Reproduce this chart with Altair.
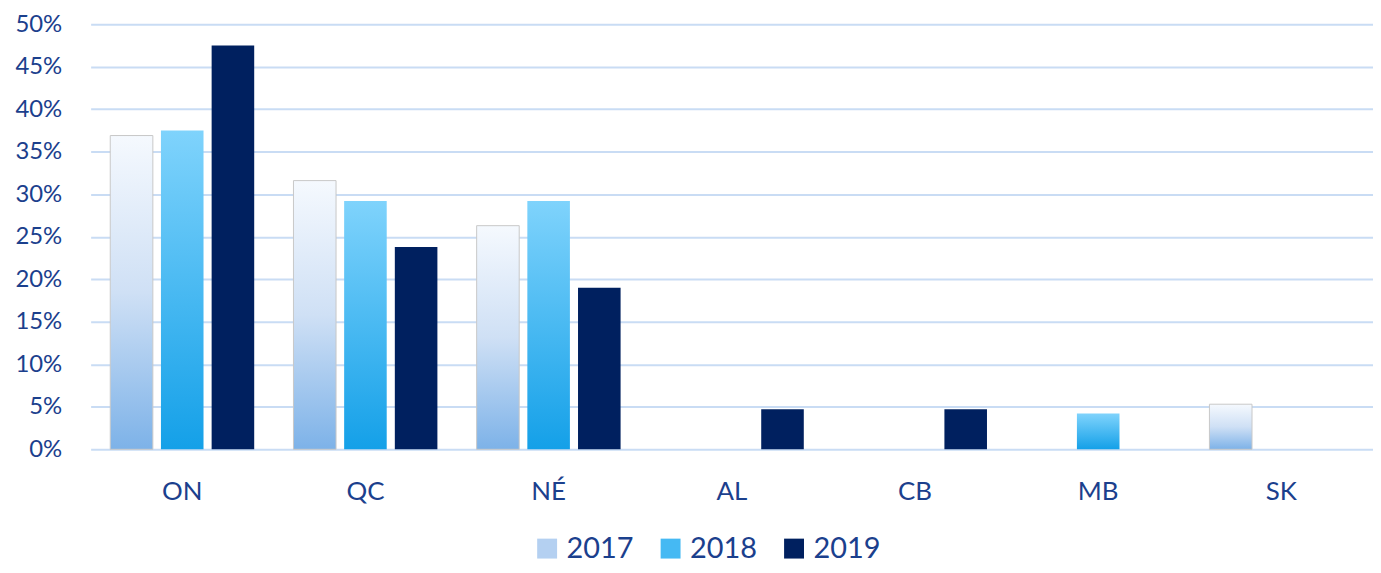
import altair as alt
import pandas as pd

provinces = ["ON", "QC", "NÉ", "AL", "CB", "MB", "SK"]
years = ["2017", "2018", "2019"]
v2017 = [36.9, 31.6, 26.3, None, None, None, 5.3]
v2018 = [37.5, 29.2, 29.2, None, None, 4.2, None]
v2019 = [47.5, 23.8, 19.0, 4.7, 4.7, None, None]

rows = []
for year, vals in zip(years, [v2017, v2018, v2019]):
    for p, v in zip(provinces, vals):
        if v is not None:
            rows.append({"province": p, "year": year, "value": v / 100})
df = pd.DataFrame(rows)

TEXT = "#1b408d"
FONT = "Lato"
GRID = "#c9dcf4"

gradients = {
    "2017": {"gradient": "linear", "x1": 0, "y1": 0, "x2": 0, "y2": 1,
             "stops": [{"offset": 0, "color": "#f5f9fe"},
                       {"offset": 0.5, "color": "#cfe0f5"},
                       {"offset": 1, "color": "#7db2e8"}]},
    "2018": {"gradient": "linear", "x1": 0, "y1": 0, "x2": 0, "y2": 1,
             "stops": [{"offset": 0, "color": "#7fd3fc"},
                       {"offset": 1, "color": "#14a0e8"}]},
    "2019": "#00205f",
}
legend_colors = ["#b4d0f1", "#45b9f3", "#00205f"]

x_enc = alt.X("province:N", sort=provinces,
              scale=alt.Scale(domain=provinces, paddingInner=0.17, paddingOuter=0.085),
              axis=alt.Axis(title=None, labelAngle=0, labelFontSize=26, labelColor=TEXT,
                            labelFont=FONT, labelPadding=29, ticks=False, domain=False, grid=False))
xo_enc = alt.XOffset("year:N", scale=alt.Scale(domain=years, paddingInner=0.16, paddingOuter=0.08))
y_enc = alt.Y("value:Q", scale=alt.Scale(domain=[0, 0.5]),
              axis=alt.Axis(title=None, format=".0%", values=[i / 100 for i in range(0, 51, 5)],
                            labelFontSize=24, labelColor=TEXT, labelFont=FONT, labelPadding=29,
                            ticks=False, domain=False, gridColor=GRID, gridWidth=2))
color_enc = alt.Color("year:N", scale=alt.Scale(domain=years, range=legend_colors),
                      legend=alt.Legend(title=None, orient="none", direction="horizontal",
                                        legendX=444, legendY=512,
                                        symbolType="square", symbolSize=400, symbolStrokeWidth=0,
                                        symbolOpacity=1,
                                        labelFontSize=29, labelColor=TEXT, labelFont=FONT,
                                        columnPadding=22, labelOffset=5))

layers = []
for y in years:
    mk = dict(strokeWidth=1, stroke="#c8c8c8") if y == "2017" else dict(strokeWidth=0)
    layers.append(
        alt.Chart(df).transform_filter(alt.datum.year == y).mark_bar(**mk).encode(
            x=x_enc, xOffset=xo_enc, y=y_enc,
            fill=alt.value(gradients[y]),
        )
    )

legend_layer = alt.Chart(df).mark_square(opacity=0, size=1).encode(
    x=x_enc, xOffset=xo_enc, y=alt.Y("value:Q"), color=color_enc,
)

chart = alt.layer(*layers, legend_layer).properties(
    width=1288, height=427,
    autosize=alt.AutoSizeParams(type="none"),
    padding={"left": 83, "top": 15, "right": 0, "bottom": 115},
).configure(background="white").configure_view(stroke=None)

chart.save("out.html", embed_options={"renderer": "svg", "actions": False})
